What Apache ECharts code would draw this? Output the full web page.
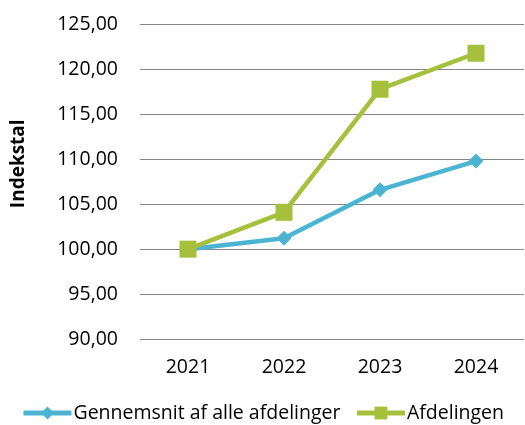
<!DOCTYPE html>
<html><head><meta charset="utf-8">
<script src="https://cdn.jsdelivr.net/npm/echarts@6/dist/echarts.min.js"></script>
<style>html,body{margin:0;padding:0;background:#fff}#c{width:525px;height:425px}</style>
</head><body><div id="c"></div>
<script>
const categories = ['2021', '2022', '2023', '2024'];
const gennemsnit = [100.0, 101.2, 106.6, 109.8];
const afdelingen = [100.0, 104.1, 117.8, 121.8];
const seriesNames = ['Gennemsnit af alle afdelinger', 'Afdelingen'];
const yAxisTitle = 'Indekstal';

const chart = echarts.init(document.getElementById('c'), null, {renderer: 'canvas'});
const font = '"Open Sans", "Liberation Sans", sans-serif';
chart.setOption({
  animation: false,
  backgroundColor: '#fff',
  textStyle: {fontFamily: font},
  grid: {left: 140, right: 1, top: 24.5, bottom: 86},
  legend: {
    bottom: -3, left: 'center', itemGap: 14, itemWidth: 48, itemHeight: 16,
    textStyle: {fontSize: 19.5, color: '#000', fontFamily: font, padding: [0, 0, 0, -3]},
    lineStyle: {width: 5},
    data: seriesNames
  },
  xAxis: {
    type: 'category', data: categories, boundaryGap: true,
    axisLine: {show: false}, axisTick: {show: false},
    axisLabel: {fontSize: 19.5, color: '#000', margin: 18, fontFamily: font}
  },
  yAxis: {
    type: 'value', min: 90, max: 125, interval: 5,
    name: yAxisTitle, nameLocation: 'middle', nameGap: 112,
    nameTextStyle: {fontSize: 19, fontWeight: 'bold', color: '#000', fontFamily: font, padding: [0, 0, 0, 36]},
    axisLine: {show: false}, axisTick: {show: false},
    axisLabel: {fontSize: 19.5, color: '#000', margin: 22, fontFamily: font,
      formatter: v => v.toFixed(2).replace('.', ',')},
    splitLine: {lineStyle: {color: '#868686', width: 1}}
  },
  series: [
    {name: seriesNames[0], type: 'line', data: gennemsnit, symbol: 'diamond', symbolSize: 15,
     lineStyle: {color: '#4BB4D2', width: 4.5}, itemStyle: {color: '#4BB4D2'}},
    {name: seriesNames[1], type: 'line', data: afdelingen, symbol: 'rect', symbolSize: 17,
     lineStyle: {color: '#A5C13C', width: 4.5}, itemStyle: {color: '#A5C13C'}}
  ]
});
</script></body></html>
